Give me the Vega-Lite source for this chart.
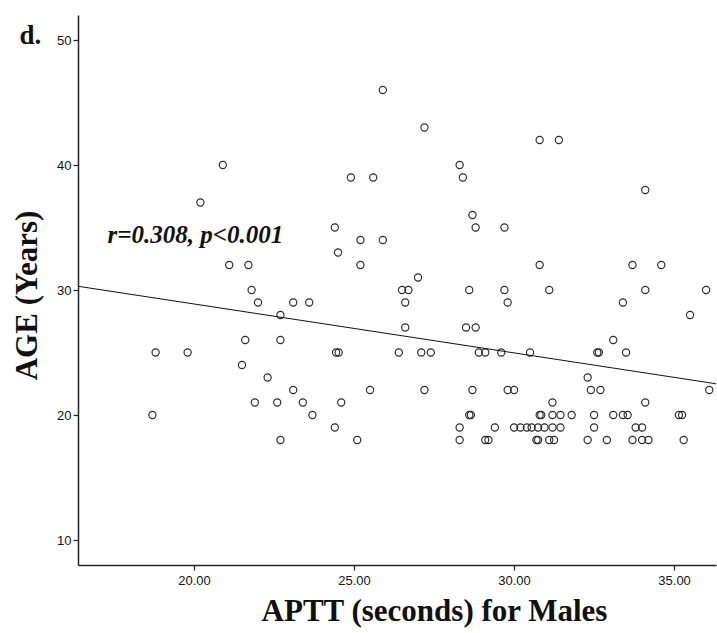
{
  "$schema": "https://vega.github.io/schema/vega-lite/v6.json",
  "autosize": "none",
  "width": 638,
  "height": 550,
  "padding": {"left": 78, "top": 15, "right": 1, "bottom": 68},
  "background": "white",
  "config": {
    "view": {"stroke": null},
    "axis": {
      "grid": false,
      "domainColor": "#222222",
      "domainWidth": 1.5,
      "tickColor": "#222222",
      "tickWidth": 1.2,
      "tickSize": 5,
      "labelFont": "Liberation Sans Narrow, Liberation Sans",
      "labelFontSize": 13,
      "labelColor": "#111111",
      "titleFont": "Liberation Serif",
      "titleFontSize": 31,
      "titleFontWeight": "bold",
      "titleColor": "#111111"
    }
  },
  "datasets": {
    "pts": [
      {"aptt": 20.9, "age": 40}, {"aptt": 20.2, "age": 37}, {"aptt": 21.1, "age": 32}, {"aptt": 21.7, "age": 32},
      {"aptt": 21.8, "age": 30}, {"aptt": 22.0, "age": 29}, {"aptt": 23.1, "age": 29}, {"aptt": 22.7, "age": 28},
      {"aptt": 21.6, "age": 26}, {"aptt": 22.7, "age": 26}, {"aptt": 18.8, "age": 25}, {"aptt": 19.8, "age": 25},
      {"aptt": 21.5, "age": 24}, {"aptt": 22.3, "age": 23}, {"aptt": 23.1, "age": 22}, {"aptt": 21.9, "age": 21},
      {"aptt": 22.6, "age": 21}, {"aptt": 23.4, "age": 21}, {"aptt": 18.7, "age": 20}, {"aptt": 22.7, "age": 18},
      {"aptt": 25.9, "age": 46}, {"aptt": 27.2, "age": 43}, {"aptt": 24.9, "age": 39}, {"aptt": 25.6, "age": 39},
      {"aptt": 28.3, "age": 40}, {"aptt": 28.4, "age": 39}, {"aptt": 28.7, "age": 36}, {"aptt": 28.8, "age": 35},
      {"aptt": 24.4, "age": 35}, {"aptt": 25.2, "age": 34}, {"aptt": 25.9, "age": 34}, {"aptt": 24.5, "age": 33},
      {"aptt": 25.2, "age": 32}, {"aptt": 27.0, "age": 31}, {"aptt": 26.5, "age": 30}, {"aptt": 26.7, "age": 30},
      {"aptt": 28.6, "age": 30}, {"aptt": 26.6, "age": 29}, {"aptt": 23.6, "age": 29}, {"aptt": 26.6, "age": 27},
      {"aptt": 28.5, "age": 27}, {"aptt": 28.8, "age": 27}, {"aptt": 24.44, "age": 25}, {"aptt": 24.52, "age": 25},
      {"aptt": 26.4, "age": 25}, {"aptt": 27.1, "age": 25}, {"aptt": 27.4, "age": 25}, {"aptt": 28.9, "age": 25},
      {"aptt": 29.1, "age": 25}, {"aptt": 25.5, "age": 22}, {"aptt": 27.2, "age": 22}, {"aptt": 28.7, "age": 22},
      {"aptt": 30.8, "age": 42}, {"aptt": 31.4, "age": 42}, {"aptt": 34.1, "age": 38}, {"aptt": 29.7, "age": 35},
      {"aptt": 30.8, "age": 32}, {"aptt": 33.7, "age": 32}, {"aptt": 34.6, "age": 32}, {"aptt": 29.7, "age": 30},
      {"aptt": 31.1, "age": 30}, {"aptt": 34.1, "age": 30}, {"aptt": 36.0, "age": 30}, {"aptt": 29.8, "age": 29},
      {"aptt": 33.4, "age": 29}, {"aptt": 35.5, "age": 28}, {"aptt": 33.1, "age": 26}, {"aptt": 29.6, "age": 25},
      {"aptt": 30.5, "age": 25}, {"aptt": 32.6, "age": 25}, {"aptt": 32.65, "age": 25}, {"aptt": 33.5, "age": 25},
      {"aptt": 32.3, "age": 23}, {"aptt": 29.8, "age": 22}, {"aptt": 30.0, "age": 22}, {"aptt": 32.4, "age": 22},
      {"aptt": 32.7, "age": 22}, {"aptt": 36.1, "age": 22}, {"aptt": 23.7, "age": 20}, {"aptt": 24.6, "age": 21},
      {"aptt": 24.4, "age": 19}, {"aptt": 25.1, "age": 18}, {"aptt": 28.6, "age": 20}, {"aptt": 28.65, "age": 20},
      {"aptt": 28.3, "age": 19}, {"aptt": 28.3, "age": 18}, {"aptt": 29.1, "age": 18}, {"aptt": 29.2, "age": 18},
      {"aptt": 31.2, "age": 21}, {"aptt": 30.8, "age": 20}, {"aptt": 30.85, "age": 20}, {"aptt": 31.2, "age": 20},
      {"aptt": 31.45, "age": 20}, {"aptt": 31.8, "age": 20}, {"aptt": 32.5, "age": 20}, {"aptt": 29.4, "age": 19},
      {"aptt": 30.0, "age": 19}, {"aptt": 30.2, "age": 19}, {"aptt": 30.4, "age": 19}, {"aptt": 30.55, "age": 19},
      {"aptt": 30.75, "age": 19}, {"aptt": 30.95, "age": 19}, {"aptt": 31.2, "age": 19}, {"aptt": 31.45, "age": 19},
      {"aptt": 32.5, "age": 19}, {"aptt": 30.7, "age": 18}, {"aptt": 30.75, "age": 18}, {"aptt": 31.1, "age": 18},
      {"aptt": 31.25, "age": 18}, {"aptt": 32.3, "age": 18}, {"aptt": 34.1, "age": 21}, {"aptt": 33.1, "age": 20},
      {"aptt": 33.4, "age": 20}, {"aptt": 33.55, "age": 20}, {"aptt": 35.15, "age": 20}, {"aptt": 35.25, "age": 20},
      {"aptt": 33.8, "age": 19}, {"aptt": 34.0, "age": 19}, {"aptt": 32.9, "age": 18}, {"aptt": 33.7, "age": 18},
      {"aptt": 34.0, "age": 18}, {"aptt": 34.2, "age": 18}, {"aptt": 35.3, "age": 18}
    ],
    "fit": [
      {"aptt": 16.375, "age": 30.3},
      {"aptt": 36.31, "age": 22.5}
    ]
  },
  "layer": [
    {
      "data": {"name": "pts"},
      "mark": {"type": "point", "shape": "circle", "filled": false, "size": 52, "stroke": "#2a2a2a", "strokeWidth": 1.15, "opacity": 1},
      "encoding": {
        "x": {
          "field": "aptt", "type": "quantitative",
          "scale": {"domain": [16.375, 36.31], "nice": false, "zero": false},
          "axis": {"values": [20, 25, 30, 35], "format": ".2f", "title": "APTT (seconds) for Males", "labelPadding": 4, "titlePadding": 9, "titleX": 356}
        },
        "y": {
          "field": "age", "type": "quantitative",
          "scale": {"domain": [8, 52], "nice": false, "zero": false},
          "axis": {"values": [10, 20, 30, 40, 50], "title": "AGE (Years)", "labelPadding": 2, "titlePadding": 13, "titleY": 280}
        }
      }
    },
    {
      "data": {"name": "fit"},
      "mark": {"type": "line", "color": "#111111", "strokeWidth": 1},
      "encoding": {
        "x": {"field": "aptt", "type": "quantitative"},
        "y": {"field": "age", "type": "quantitative"}
      }
    },
    {
      "data": {"values": [{"label": "r=0.308, p<0.001"}]},
      "mark": {"type": "text", "font": "Liberation Serif", "fontSize": 25, "fontWeight": "bold", "fontStyle": "italic", "align": "left", "baseline": "alphabetic", "color": "#111111"},
      "encoding": {
        "text": {"field": "label"},
        "x": {"datum": 17.3},
        "y": {"datum": 33.76}
      }
    },
    {
      "data": {"values": [{"label": "d."}]},
      "mark": {"type": "text", "font": "Liberation Serif", "fontSize": 27, "fontWeight": "bold", "align": "left", "baseline": "alphabetic", "color": "#111111", "clip": false},
      "encoding": {
        "text": {"field": "label"},
        "x": {"datum": 14.55},
        "y": {"datum": 49.7}
      }
    }
  ]
}
